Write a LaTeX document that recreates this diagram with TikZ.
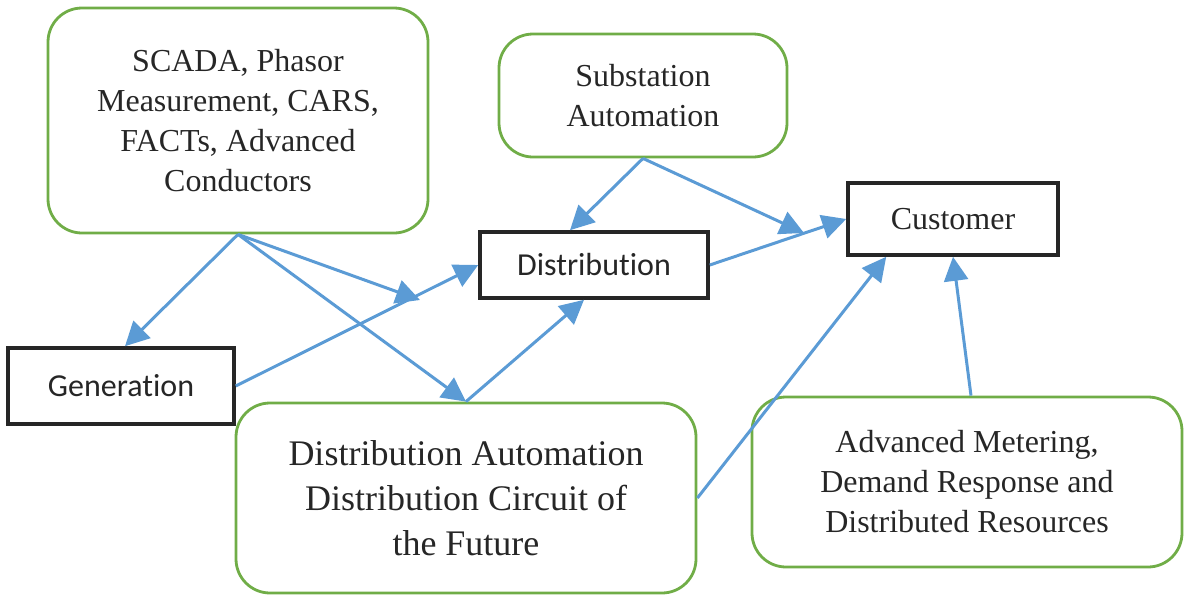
\documentclass[tikz,border=0pt]{standalone}
\usepackage{fontspec}
\setmainfont{Liberation Serif}
\newfontfamily\labelsans[Ligatures=NoCommon]{Carlito}
\usetikzlibrary{arrows.meta}
\definecolor{boxgreen}{HTML}{70AD47}
\definecolor{linkblue}{HTML}{5B9BD5}

\begin{document}
\begin{tikzpicture}[x=0.5pt, y=-0.5pt,
        tech/.style={draw=boxgreen, line width=1.4pt, rounded corners=17pt, align=center, inner sep=0pt, text=black!85, font=\fontsize{16}{20}\selectfont},
        stage/.style={draw=black!85, line width=1.8pt, inner sep=0pt, text=black!85, font=\labelsans\fontsize{16}{20}\selectfont},
        link/.style={linkblue, line width=1.5pt, -{Triangle[length=12pt,width=12pt]}}]
        \useasboundingbox (0,0) rectangle (1184,595);

        \node[tech, minimum width=190pt, minimum height=112.5pt] (scada) at (238,120.5) {SCADA, Phasor\\Measurement, CARS,\\FACTs, Advanced\\Conductors};
        \node[tech, minimum width=144pt, minimum height=61.5pt] (subst) at (643,95.5) {Substation\\Automation};
        \node[tech, minimum width=230pt, minimum height=95pt, font=\fontsize{18}{22.5}\selectfont] (dacf) at (466,498) {Distribution Automation\\Distribution Circuit of\\the Future};
        \node[tech, minimum width=215pt, minimum height=85pt] (amr) at (967,482) {Advanced Metering,\\Demand Response and\\Distributed Resources};

        \node[stage, minimum width=113pt, minimum height=38pt] (gen) at (121,386) {Generation};
        \node[stage, minimum width=114pt, minimum height=33pt] (dist) at (594,265) {Distribution};
        \node[stage, minimum width=105pt, minimum height=36pt, font=\fontsize{16}{20}\selectfont] (cust) at (953,219) {Customer};

        \coordinate (genlink) at (420,300);
        \coordinate (distlink) at (804,233);

        \draw[link] (scada.south) -- ([xshift=2pt]gen.north);
        \draw[link] (scada.south) -- (genlink);
        \draw[link] (scada.south) -- (dacf.north);
        \draw[link] (gen.east) -- (dist.west);
        \draw[link] (dacf.north) -- ([xshift=-5pt]dist.south);
        \draw[link] (subst.south) -- ([xshift=-12pt]dist.north);
        \draw[link] (subst.south) -- (distlink);
        \draw[link] (dist.east) -- (cust.west);
        \draw[link] (dacf.east) -- ([xshift=20pt]cust.south west);
        \draw[link] ([xshift=2pt]amr.north) -- (cust.south);
    \end{tikzpicture}
\end{document}
